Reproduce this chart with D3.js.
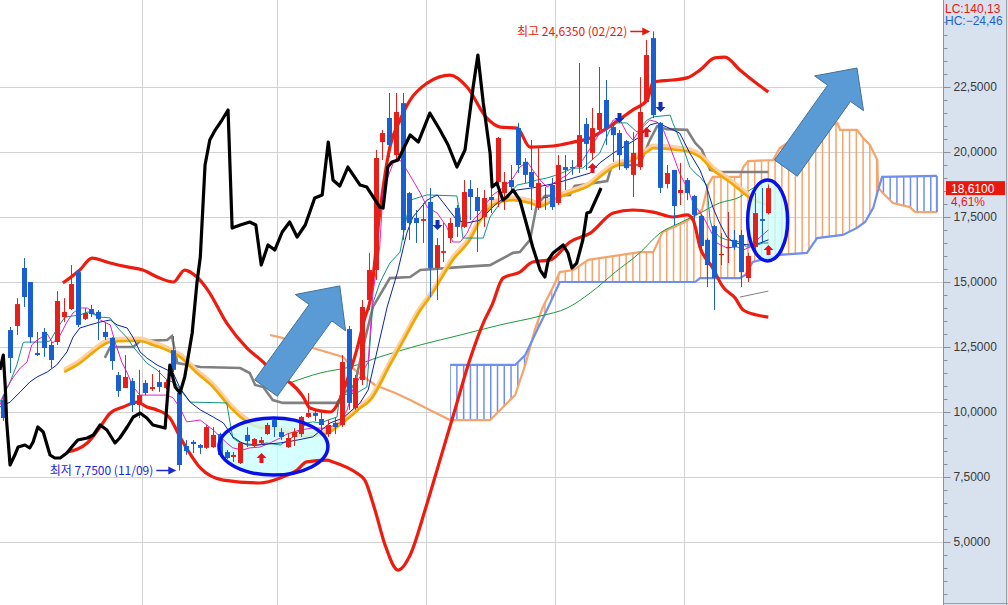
<!DOCTYPE html>
<html>
<head>
<meta charset="utf-8">
<script src="https://cdn.jsdelivr.net/npm/d3@7"></script>
<style>
body { margin: 0; background: #fff; }
svg { display: block; }
text { font-family: "Liberation Sans", "Noto Sans CJK KR", sans-serif; }
.kr { font-family: "Noto Sans CJK KR", sans-serif; }
</style>
</head>
<body>
<script>
// ---- daily candles (price) ----
var opens  = [10.46,13.15,13.31,15.54,15.0,12.27,13.08,12.58,12.69,13.65,13.96,15.38,13.58,13.96,13.85,13.08,12.85,11.42,10.92,11.19,
              10.27,11.12,10.88,11.15,10.92,12.38,10.73,8.69,8.85,8.73,8.62,8.65,9.15,8.46,8.27,8.04,9.12,8.69,8.81,9.15,
              9.69,9.23,8.65,9.04,9.15,9.81,9.96,9.73,9.15,9.58,9.5,13.19,10.15,11.23,14.31,15.46,20.38,21.31,19.88,21.88,
              18.42,17.46,17.35,18.08,15.54,16.12,16.69,17.85,17.12,18.58,18.27,17.5,18.27,18.85,18.42,18.92,20.92,19.62,19.23,17.85,
              18.27,18.73,18.04,19.42,19.42,19.42,21.08,19.96,20.85,22.0,20.96,20.73,20.42,19.12,19.42,21.92,24.38,21.12,18.77,19.31,
              18.42,18.92,18.31,17.54,16.62,17.15,16.04,16.31,16.62,16.81,15.15,16.35,17.42,17.65];
var highs  = [10.65,13.27,14.38,15.92,15.0,13.08,13.23,12.69,14.65,14.38,15.65,15.46,14.0,14.12,13.92,13.42,12.88,11.54,12.19,11.31,
              11.62,11.23,11.46,11.62,11.23,12.92,10.77,8.92,8.92,8.77,9.5,9.42,9.2,8.54,8.46,8.85,9.42,9.0,9.04,9.58,
              9.77,9.38,9.19,9.38,9.85,10.73,10.08,10.0,9.69,9.77,12.19,13.31,11.42,14.31,16.12,20.08,20.85,22.27,22.27,22.27,
              18.46,17.77,18.04,18.62,16.69,17.27,17.46,17.96,18.92,18.92,18.62,18.54,19.88,20.58,19.23,19.5,21.12,19.77,20.46,20.15,
              18.65,19.0,19.88,19.88,19.69,23.42,21.31,21.69,23.27,22.77,21.12,20.85,20.46,20.77,22.88,24.31,24.635,21.15,19.5,19.31,
              19.58,19.0,18.35,17.62,16.69,17.19,16.88,17.69,17.0,17.0,16.12,18.42,18.62,18.75];
var lows   = [9.65,11.5,12.96,14.04,12.65,12.15,12.12,11.69,12.58,13.46,13.92,13.27,13.54,13.65,12.77,12.77,11.62,10.58,10.92,10.0,
              9.77,10.65,10.81,10.77,10.88,11.54,7.75,8.35,8.42,8.38,8.58,8.62,8.3,8.19,8.08,8.0,8.65,8.65,8.73,9.12,
              9.04,8.92,8.62,8.69,9.04,9.77,9.65,9.19,9.04,9.15,9.42,10.08,10.08,11.04,13.92,15.08,19.69,19.81,19.7,16.62,
              16.62,16.5,16.5,14.42,14.31,15.77,16.5,16.73,17.08,17.38,16.15,17.12,17.65,17.88,17.77,18.42,19.19,18.81,17.77,17.77,
              17.77,17.77,17.96,18.54,19.12,19.19,19.31,19.69,20.73,20.27,19.62,19.31,19.31,18.27,19.31,21.88,21.3,18.42,18.6,17.19,
              17.96,18.15,17.38,16.23,14.81,13.92,15.65,15.73,16.23,14.81,15.0,16.23,16.5,17.6];
var closes = [9.77,12.08,14.15,14.42,12.88,12.19,12.46,12.0,14.27,13.85,14.92,13.35,13.81,13.77,13.58,12.88,11.96,10.81,11.35,10.27,
              10.65,10.73,10.96,10.96,11.15,11.62,7.96,8.5,8.77,8.62,9.42,9.12,8.35,8.23,8.35,8.81,8.88,8.96,8.92,9.5,
              9.42,9.04,9.0,9.23,9.81,9.96,9.85,9.5,9.5,9.42,11.92,10.35,11.31,14.04,15.46,19.77,20.73,20.27,21.54,17.0,
              17.27,17.27,17.42,15.54,16.42,16.19,17.27,17.12,18.46,18.27,17.73,18.23,18.15,20.54,18.85,18.65,19.5,19.12,18.65,18.81,
              18.23,17.88,19.5,19.31,19.38,20.65,20.31,20.92,21.5,20.92,20.65,19.88,19.38,19.96,21.54,23.73,21.42,18.62,19.19,17.92,
              18.54,18.42,17.58,16.38,15.65,15.15,16.08,16.35,16.35,15.38,16.0,17.65,17.35,18.61];

// ---- overlay lines: [candle index, price] ----
var bbUpper = [[8.8,14.96],[11.3,15.46],[13.1,15.92],[15.8,15.73],[18.3,15.58],[20.6,15.46],[23.1,15.15],[25.1,15.0],[26.8,15.46],
  [28.6,15.19],[30.2,14.69],[33.0,13.42],[36.0,12.46],[38.4,11.92],[40.4,11.35],[42.4,11.12],[44.3,10.58],[45.3,10.15],[48.3,10.0],
  [49.7,10.46],[50.8,11.23],[52.2,12.38],[53.4,13.62],[54.2,14.31],[55.6,17.65],[57.1,20.19],[58.6,21.23],[60.1,22.0],[62.6,22.65],
  [66.0,22.96],[68.5,22.5],[71.4,21.31],[73.4,20.96],[75.9,20.92],[77.8,20.19],[81.2,20.23],[84.2,20.38],[86.7,20.54],[89.2,20.92],
  [93.0,21.62],[95.1,22.0],[96.0,22.69],[98.9,22.77],[101.0,22.85],[102.9,23.15],[105.1,23.62],[106.6,23.65],[108.8,23.15],
  [111.0,22.69],[113.0,22.31]];
var bbLower = [[9.4,8.46],[12.4,8.81],[14.3,9.42],[15.8,9.96],[17.7,10.19],[19.8,10.38],[21.2,10.19],[22.7,10.08],[24.6,9.77],
  [26.1,9.04],[27.9,8.27],[29.1,7.85],[32.5,7.38],[37.9,7.27],[40.9,7.46],[43.4,7.77],[44.8,8.08],[47.8,8.15],[48.7,8.08],
  [52.2,7.65],[53.4,7.38],[54.9,6.23],[56.4,4.88],[58.3,3.92],[60.1,4.5],[62.3,6.23],[64.5,8.15],[66.7,10.08],[68.9,12.0],
  [71.1,13.54],[72.2,14.12],[73.8,15.15],[76.3,15.38],[78.2,15.77],[80.8,15.85],[83.7,16.54],[86.7,16.88],[90.1,17.65],
  [93.0,17.77],[96.0,17.69],[98.9,17.5],[101.0,17.58],[101.9,17.38],[102.9,16.35],[104.7,15.58],[106.3,14.81],[108.1,14.38],
  [109.3,13.92],[111.3,13.73],[113.0,13.65]];
var baseLine = [[15.0,12.08],[15.8,12.5],[19.2,12.5],[20.2,12.73],[24.2,12.77],[24.9,12.92],[25.7,11.88],[29.1,11.73],[35.0,11.69],
  [36.4,11.5],[37.2,11.04],[38.4,10.96],[39.8,10.46],[41.3,10.35],[49.3,10.35],[50.5,10.77],[51.9,11.04],[53.4,12.77],[54.6,14.04],
  [57.1,15.15],[60.1,15.19],[61.6,15.46],[67.9,15.58],[71.9,15.65],[75.3,16.12],[76.3,16.15],[77.8,16.62],[78.8,17.96],[80.0,18.31],
  [83.7,18.35],[84.4,18.69],[89.2,18.88],[89.9,19.5],[94.0,19.5],[95.5,20.46],[96.6,21.0],[98.0,20.88],[101.0,20.85],[102.2,20.35],
  [103.2,20.08],[104.4,19.31],[105.8,19.23],[113.0,19.23]];
var ma60 = [[9.0,11.54],[10.9,11.81],[12.8,12.19],[14.3,12.5],[15.8,12.69],[18.3,12.73],[20.2,12.73],[22.1,12.58],[24.2,12.38],
  [26.1,12.12],[28.6,11.5],[31.0,10.96],[33.5,10.19],[36.0,9.62],[37.5,9.42],[40.9,9.31],[42.3,9.19],[44.9,9.04],[46.8,9.12],
  [48.0,9.19],[49.7,9.5],[51.2,9.81],[52.7,10.15],[54.2,10.46],[57.1,11.81],[59.3,12.85],[61.6,13.92],[63.0,14.42],[66.4,15.85],
  [68.9,16.62],[70.4,17.35],[72.9,18.04],[75.3,18.15],[77.8,18.04],[79.3,17.92],[81.8,18.23],[84.2,18.46],[86.7,18.73],[88.1,19.04],
  [90.1,19.42],[93.0,19.69],[95.1,20.0],[96.0,20.15],[99.5,20.08],[101.4,20.0],[102.9,19.81],[104.8,19.31],[106.9,18.92],
  [108.8,18.54],[110.3,18.23],[112.8,17.96]];
var ma120 = [[42.3,11.12],[46.8,11.5],[51.2,11.73],[55.6,12.12],[61.6,12.58],[67.5,12.96],[73.4,13.35],[79.3,13.69],[83.3,14.0],
  [86.7,14.58],[90.4,15.38],[94.0,16.12],[97.0,16.88],[99.9,17.27],[102.9,17.65],[105.8,18.04],[108.8,18.27],[110.3,18.54],[113.0,18.92]];
var ma20 = [[-0.5,10.38],[1.0,11.15],[2.0,11.81],[2.9,12.65],[3.2,12.69],[5.9,12.69],[6.9,12.73],[8.1,13.27],[9.1,13.65],[11.3,13.73],
  [12.5,13.85],[14.3,13.65],[15.8,13.62],[16.2,13.46],[17.2,13.15],[18.3,12.85],[19.2,12.5],[20.2,12.19],[21.2,11.88],[22.7,11.62],
  [24.2,11.23],[25.4,11.12],[26.4,10.77],[27.6,10.38],[33.0,10.35],[33.5,9.58],[33.9,9.0],[35.0,8.81],[37.5,8.73],[38.9,8.81],
  [40.9,8.73],[42.8,9.04],[44.9,9.58],[45.7,9.62],[46.8,9.58],[49.3,9.81],[49.7,10.65],[52.2,10.73],[53.7,10.96],[54.6,14.19],
  [55.6,14.96],[57.1,15.73],[58.6,16.15],[59.3,17.12],[60.1,18.15],[61.6,18.27],[62.6,18.35],[67.0,18.31],[67.5,17.5],[67.9,16.69],
  [70.9,16.69],[71.9,17.5],[73.4,18.04],[74.4,18.27],[75.9,18.73],[77.4,18.81],[78.8,18.92],[80.3,19.0],[81.8,19.12],[84.2,19.38],
  [85.6,19.38],[88.1,19.96],[89.6,20.85],[90.6,21.12],[92.1,21.12],[93.6,20.77],[95.1,21.23],[96.0,21.35],[98.5,21.42],[98.9,21.12],
  [100.4,20.19],[101.4,19.42],[102.2,19.19],[102.9,19.04],[103.9,18.73],[104.4,17.38],[104.8,17.0],[105.8,16.73],[106.9,16.62],
  [108.8,16.54],[109.8,16.35],[110.7,16.35],[112.2,16.5],[113.0,16.5]];
var ma5 = [[-0.5,10.27],[0.5,10.92],[1.4,11.31],[2.5,11.69],[3.5,11.92],[4.2,12.58],[5.0,12.77],[6.5,13.0],[7.3,12.65],[8.4,12.96],
  [9.4,13.46],[10.3,13.81],[11.3,14.0],[12.4,14.0],[13.3,13.85],[14.3,13.54],[15.8,13.35],[16.5,12.69],[17.5,11.92],[18.3,11.5],
  [19.2,10.96],[20.2,10.65],[24.2,10.65],[25.1,10.54],[26.1,10.15],[27.1,9.62],[29.1,9.69],[31.0,9.31],[33.0,8.81],[33.9,8.62],
  [35.4,8.54],[36.4,8.62],[37.9,8.65],[39.4,8.81],[40.9,9.0],[41.9,9.15],[43.8,9.31],[45.7,9.38],[47.8,9.38],[49.7,9.58],
  [50.8,10.08],[51.6,10.85],[53.0,11.5],[53.9,11.92],[54.6,14.58],[55.6,16.35],[56.1,18.54],[57.6,19.58],[58.6,19.69],[59.6,19.31],
  [61.6,18.42],[62.6,17.88],[64.1,17.65],[65.5,17.12],[66.4,16.54],[67.5,16.54],[68.5,16.88],[69.4,17.38],[70.4,17.65],[71.4,18.04],
  [72.3,18.35],[73.8,18.62],[75.3,19.0],[76.3,19.42],[77.4,19.62],[78.2,19.31],[79.3,18.92],[80.3,18.65],[83.3,19.12],[85.6,19.69],
  [86.7,20.15],[88.1,20.73],[89.2,20.85],[90.1,21.23],[91.1,21.23],[92.1,20.73],[93.0,20.46],[94.0,20.85],[95.5,21.23],[96.6,21.15],
  [97.5,20.85],[98.5,20.19],[99.9,19.19],[101.0,18.62],[101.9,18.04],[103.4,17.5],[104.4,17.0],[105.4,16.5],[106.9,16.31],
  [108.4,16.35],[109.3,16.23],[110.3,16.35],[111.8,16.73],[113.0,17.0]];
var ma10 = [[-0.5,10.19],[1.0,10.38],[2.5,10.77],[3.9,11.15],[5.0,11.35],[6.5,11.54],[7.9,11.81],[9.4,12.31],[10.3,12.88],[11.3,13.23],
  [12.8,13.35],[14.3,13.46],[15.8,13.54],[16.8,13.35],[18.3,13.23],[19.2,12.85],[20.2,12.31],[21.2,12.08],[22.7,11.81],[24.2,11.62],
  [25.1,11.5],[26.1,10.92],[27.6,10.38],[29.1,10.08],[31.0,9.81],[32.5,9.58],[33.9,9.04],[35.0,8.85],[36.0,8.73],[37.5,8.73],
  [40.9,8.81],[43.4,8.92],[45.7,9.04],[48.3,9.58],[50.2,9.77],[52.7,10.35],[53.9,10.85],[56.7,14.04],[58.2,15.35],[59.6,16.88],
  [60.5,17.5],[62.6,18.15],[64.1,18.35],[65.5,17.88],[67.0,17.38],[68.5,17.27],[70.4,17.38],[72.3,17.88],[74.4,18.35],[75.9,18.54],
  [78.2,18.62],[80.3,18.73],[81.8,18.81],[84.2,19.0],[86.7,19.19],[88.1,19.58],[90.1,19.96],[92.1,20.27],[94.0,20.58],[95.5,21.04],
  [96.6,21.12],[98.0,20.96],[99.9,20.73],[101.4,19.96],[102.9,19.31],[103.9,18.65],[104.8,17.88],[105.8,17.27],[106.9,16.73],
  [107.8,16.54],[108.8,16.46],[110.3,16.42],[111.8,16.5],[113.0,16.62]];
var laggingTail = [[108.8,14.42],[113.0,14.65]];

// ---- cloud spans ----
var spanA = [[39.4,12.96],[41.2,12.85],[45.7,12.46],[50.2,12.12],[51.9,11.62],[54.9,11.04],[57.9,10.73],[60.1,10.46],[63.0,10.08],
  [66.0,9.69],[71.9,9.69],[73.4,10.08],[75.6,10.65],[77.1,11.81],[78.5,13.15],[79.7,14.04],[81.2,14.81],[82.2,15.38],[84.2,15.46],
  [86.4,15.85],[94.0,16.15],[96.0,16.15],[97.4,16.92],[100.4,17.27],[101.9,17.5],[103.2,17.77],[104.1,18.73],[104.8,19.04],
  [108.8,19.04],[109.3,19.42],[110.0,19.65],[113.7,19.69],[114.7,20.15],[115.8,20.35],[123.2,21.12],[123.6,20.85],[126.1,20.85],
  [127.0,20.54],[128.0,20.27],[129.1,19.69],[129.2,18.65],[129.9,18.42],[131.4,18.04],[133.9,17.88],[134.7,17.69],[137.9,17.69]];
var spanB = [[66.0,11.81],[75.6,11.81],[77.1,12.19],[78.5,12.96],[80.3,13.92],[82.2,15.0],[102.2,15.0],[102.9,15.15],[108.8,15.15],
  [109.6,15.27],[110.7,15.77],[114.7,16.04],[118.7,16.12],[120.2,16.69],[124.0,16.81],[126.1,17.08],[127.3,17.31],[128.5,17.85],
  [129.1,18.42],[129.8,19.04],[137.9,19.08]];
var cloudStart = 66, cloudEnd = 137.9;

// ---- oscillator (own scale, LC/HC) ----
var oscLine = [[-0.5,13.67],[0.0,19.69],[0.3,6.45],[0.5,-7.2],[1.0,-24.46],[1.7,-20.45],[2.2,-17.23],[3.2,-16.43],[3.9,-17.64],
  [4.4,-15.23],[5.1,-9.21],[5.9,-11.21],[6.9,-20.45],[7.6,-21.65],[8.4,-21.65],[9.4,-19.64],[10.1,-17.23],[11.0,-14.42],[12.4,-13.62],
  [13.3,-12.42],[14.3,-8.4],[15.3,-10.41],[16.5,-15.63],[17.2,-13.62],[18.3,-9.21],[19.2,-5.19],[20.2,-3.59],[21.2,-5.59],[22.1,-8.4],
  [23.9,-9.61],[24.6,15.68],[25.4,6.85],[26.1,4.44],[26.8,10.86],[27.9,28.52],[28.6,48.59],[29.1,59.03],[29.8,95.96],[30.5,106.0],
  [31.3,110.01],[32.3,114.02],[33.2,118.04],[33.8,70.67],[35.0,71.88],[36.4,73.08],[37.3,71.88],[38.1,55.82],[39.1,63.85],[40.1,61.84],
  [41.2,69.07],[42.3,73.08],[43.4,67.06],[44.6,71.88],[46.0,82.71],[47.1,83.92],[48.0,105.19],[48.7,89.94],[49.7,87.53],[50.9,95.16],
  [52.7,87.93],[53.7,87.13],[55.6,79.1],[56.1,78.7],[56.8,95.16],[57.4,97.16],[58.3,97.97],[60.1,108.0],[61.3,105.19],[63.0,116.83],
  [64.5,110.01],[65.7,103.99],[67.0,95.16],[68.2,101.98],[69.4,127.27],[70.1,140.11],[70.9,120.85],[71.9,100.78],[72.2,87.13],
  [72.9,88.73],[73.8,81.91],[74.4,83.11],[75.3,85.93],[76.3,81.91],[77.4,71.07],[78.2,63.05],[79.3,53.81],[80.0,51.0],[80.5,57.83],
  [81.2,60.64],[82.7,63.85],[83.4,60.64],[84.0,54.62],[84.7,56.62],[85.6,65.86],[86.2,76.69],[86.7,77.09],[88.3,86.73]];
var oscHigh = 140.13, oscLow = -24.46;

// ---- axis / grid ----
var priceTicks = [5, 7.5, 10, 12.5, 15, 17.5, 20, 22.5];
var monthBreaks = [20.5, 40.5, 62.5, 81.5, 100.5];

// ---- marks on chart ----
var upMarks = [[38, 8.42], [87, 19.58], [95, 20.96], [113, 16.42]];
var downMarks = [[64, 17.0], [91, 21.12], [97, 21.54]];
var bigArrows = [{from: [38.8, 10.92], to: [49.7, 14.85]}, {from: [115.6, 19.38], to: [126.1, 23.23]}];
var rings = [{c: [39.9, 8.67], rx: 54.5, ry: 28.5}, {c: [112.9, 17.37], rx: 20, ry: 40.5}];
var hiIdx = 96, hiText = "최고 24,6350 (02/22)";
var loIdx = 26, loText = "최저 7,7500 (11/09)";
var lastPrice = 18.61, lastChange = "4,61%";

var W = 1008, H = 605, plotW = 943;

var svg = d3.select("body").append("svg")
    .attr("width", W)
    .attr("height", H);

var x = d3.scaleLinear().domain([0, 100]).range([3.3, 680.3]);
var y = d3.scaleLinear().domain([2.577, 25.846]).range([605, 0]);
var yOsc = d3.scaleLinear().domain([oscLow, oscHigh]).range([465, 55]);

var fmt = function(v, n) { return d3.format("." + n + "f")(v).replace(".", ","); };

svg.append("rect").attr("width", W).attr("height", H).attr("fill", "#fff");

// grid
svg.append("g").selectAll("line")
    .data(priceTicks)
    .enter().append("line")
    .attr("x1", 0).attr("x2", plotW)
    .attr("y1", d => Math.round(y(d)) + 0.5).attr("y2", d => Math.round(y(d)) + 0.5)
    .attr("stroke", "#d2d2d2");
svg.append("g").selectAll("line")
    .data(monthBreaks)
    .enter().append("line")
    .attr("x1", d => Math.round(x(d)) + 0.5).attr("x2", d => Math.round(x(d)) + 0.5)
    .attr("y1", 0).attr("y2", H)
    .attr("stroke", "#d2d2d2");

var line = d3.line().x(d => x(d[0])).y(d => y(d[1]));
var smooth = d3.line().curve(d3.curveMonotoneX).x(d => x(d[0])).y(d => y(d[1]));

// cloud hatching via clip paths
var defs = svg.append("defs");
var cloudA = spanA.filter(d => d[0] >= cloudStart);
function clipPoly(id, pts, edgeY) {
    var p = pts.map(d => [x(d[0]), y(d[1])]);
    p.push([x(cloudEnd) + 1, edgeY]);
    p.push([x(cloudStart) - 1, edgeY]);
    defs.append("clipPath").attr("id", id)
        .append("path").attr("d", "M" + p.join("L") + "Z");
}
clipPoly("belowA", cloudA, H);
clipPoly("aboveA", cloudA, 0);
clipPoly("belowB", spanB, H);
clipPoly("aboveB", spanB, 0);

var hatchIdx = d3.range(cloudStart, Math.floor(cloudEnd) + 1);
function hatch(outer, inner, color) {
    svg.append("g").attr("clip-path", "url(#" + outer + ")")
        .append("g").attr("clip-path", "url(#" + inner + ")")
        .selectAll("line").data(hatchIdx).enter().append("line")
        .attr("x1", d => x(d)).attr("x2", d => x(d))
        .attr("y1", 0).attr("y2", H)
        .attr("stroke", color).attr("stroke-width", 1.5);
}
hatch("belowA", "aboveB", "#f5a46c");
hatch("belowB", "aboveA", "#6f8ff0");

svg.append("path").attr("d", line(spanA)).attr("fill", "none")
    .attr("stroke", "#f5a46c").attr("stroke-width", 2.2);
svg.append("path").attr("d", line(spanB)).attr("fill", "none")
    .attr("stroke", "#6f8ff0").attr("stroke-width", 2.2);
// closing edge of the cloud
svg.append("line")
    .attr("x1", x(cloudEnd)).attr("x2", x(cloudEnd))
    .attr("y1", y(spanB[spanB.length - 1][1])).attr("y2", y(spanA[spanA.length - 1][1]))
    .attr("stroke", "#6f8ff0").attr("stroke-width", 2);

// slow lines (under the ellipse tint)
svg.append("path").attr("d", smooth(ma120)).attr("fill", "none").attr("stroke", "#1d9a3c").attr("stroke-width", 1);
svg.append("path").attr("d", line(laggingTail)).attr("fill", "none").attr("stroke", "#808080").attr("stroke-width", 1);
svg.append("path").attr("d", line(baseLine)).attr("fill", "none").attr("stroke", "#808080").attr("stroke-width", 2.6);
svg.append("path").attr("d", smooth(ma60)).attr("fill", "none").attr("stroke", "#ffcf9e").attr("stroke-width", 5)
    .attr("transform", "translate(0,-2)");
svg.append("path").attr("d", smooth(ma60)).attr("fill", "none").attr("stroke", "#f0a800").attr("stroke-width", 2.6);

// ellipse tint
svg.append("g").selectAll("ellipse").data(rings).enter().append("ellipse")
    .attr("cx", d => x(d.c[0])).attr("cy", d => y(d.c[1]))
    .attr("rx", d => d.rx).attr("ry", d => d.ry)
    .attr("fill", "#ccffff").attr("fill-opacity", 0.8);

svg.append("path").attr("d", smooth(bbUpper)).attr("fill", "none").attr("stroke", "#ee1c0e").attr("stroke-width", 3.2);
svg.append("path").attr("d", smooth(bbLower)).attr("fill", "none").attr("stroke", "#ee1c0e").attr("stroke-width", 3.2);
svg.append("path").attr("d", line(ma20)).attr("fill", "none").attr("stroke", "#0f9484").attr("stroke-width", 1);
svg.append("path").attr("d", line(ma5)).attr("fill", "none").attr("stroke", "#e020c8").attr("stroke-width", 1);
svg.append("path").attr("d", line(ma10)).attr("fill", "none").attr("stroke", "#0a22a8").attr("stroke-width", 1);

// candles
var candles = d3.range(opens.length).map(function(i) {
    return {i: i, o: opens[i], h: highs[i], l: lows[i], c: closes[i]};
});
var cg = svg.append("g").selectAll("g").data(candles).enter().append("g");
cg.append("line")
    .attr("x1", d => Math.round(x(d.i)) + 0.5).attr("x2", d => Math.round(x(d.i)) + 0.5)
    .attr("y1", d => y(d.h)).attr("y2", d => y(d.l))
    .attr("stroke", d => d.c >= d.o ? "#e5201b" : "#1a5fcf");
cg.append("rect")
    .attr("x", d => Math.round(x(d.i)) - 2)
    .attr("width", 5)
    .attr("y", d => y(Math.max(d.o, d.c)))
    .attr("height", d => Math.max(1.2, Math.abs(y(d.o) - y(d.c))))
    .attr("fill", d => d.c >= d.o ? "#e5201b" : "#1a5fcf");

// oscillator
svg.append("path").attr("d", d3.line().x(d => x(d[0])).y(d => yOsc(d[1]))(oscLine))
    .attr("fill", "none").attr("stroke", "#000").attr("stroke-width", 3.2).attr("stroke-linejoin", "round");

// ellipse outlines
svg.append("g").selectAll("ellipse").data(rings).enter().append("ellipse")
    .attr("cx", d => x(d.c[0])).attr("cy", d => y(d.c[1]))
    .attr("rx", d => d.rx).attr("ry", d => d.ry)
    .attr("fill", "none").attr("stroke", "#0a10e8").attr("stroke-width", 3.5);

// small signal arrows
function upArrow(cx, t) {
    return "M" + cx + "," + t + "L" + (cx + 5) + "," + (t + 5) + "L" + (cx + 2) + "," + (t + 5) + "L" + (cx + 2) + "," + (t + 10) +
        "L" + (cx - 2) + "," + (t + 10) + "L" + (cx - 2) + "," + (t + 5) + "L" + (cx - 5) + "," + (t + 5) + "Z";
}
function downArrow(cx, b) {
    return "M" + cx + "," + b + "L" + (cx + 5) + "," + (b - 5) + "L" + (cx + 2) + "," + (b - 5) + "L" + (cx + 2) + "," + (b - 10) +
        "L" + (cx - 2) + "," + (b - 10) + "L" + (cx - 2) + "," + (b - 5) + "L" + (cx - 5) + "," + (b - 5) + "Z";
}
svg.append("g").selectAll("path").data(upMarks).enter().append("path")
    .attr("d", d => upArrow(Math.round(x(d[0])) + 0.5, y(d[1]))).attr("fill", "#e8101a");
svg.append("g").selectAll("path").data(downMarks).enter().append("path")
    .attr("d", d => downArrow(Math.round(x(d[0])) + 0.5, y(d[1]))).attr("fill", "#1030b8");

// big trend arrows
function bigArrow(a, shaftW, headW, headLen) {
    var x0 = x(a.from[0]), y0 = y(a.from[1]), x1 = x(a.to[0]), y1 = y(a.to[1]);
    var len = Math.hypot(x1 - x0, y1 - y0), ux = (x1 - x0) / len, uy = (y1 - y0) / len;
    var px = -uy, py = ux;
    var bx = x1 - ux * headLen, by = y1 - uy * headLen;
    var pts = [
        [x0 + px * shaftW / 2, y0 + py * shaftW / 2],
        [bx + px * shaftW / 2, by + py * shaftW / 2],
        [bx + px * headW / 2, by + py * headW / 2],
        [x1, y1],
        [bx - px * headW / 2, by - py * headW / 2],
        [bx - px * shaftW / 2, by - py * shaftW / 2],
        [x0 - px * shaftW / 2, y0 - py * shaftW / 2]
    ];
    return "M" + pts.join("L") + "Z";
}
svg.append("g").selectAll("path").data(bigArrows).enter().append("path")
    .attr("d", (d, i) => i === 0 ? bigArrow(d, 28, 62, 33) : bigArrow(d, 28, 60, 31))
    .attr("fill", "#5b9bd5").attr("stroke", "#41719c").attr("stroke-width", 1);

// high / low notes
function note(idx, price, txt, color) {
    var tx = x(idx) - 3, ty = y(price);
    svg.append("line").attr("x1", tx - 20).attr("x2", tx - 6).attr("y1", ty).attr("y2", ty)
        .attr("stroke", color).attr("stroke-width", 1.5);
    svg.append("path").attr("d", "M" + tx + "," + ty + "L" + (tx - 8) + "," + (ty - 4) + "L" + (tx - 8) + "," + (ty + 4) + "Z")
        .attr("fill", color);
    svg.append("text").attr("class", "kr").attr("x", tx - 23).attr("y", ty + 4.5)
        .attr("text-anchor", "end").attr("font-size", 12).attr("fill", color).text(txt);
}
note(hiIdx, highs[hiIdx], hiText, "#e8180c");
note(loIdx, lows[loIdx], loText, "#1a28d8");

// right price axis panel
svg.append("rect").attr("x", plotW).attr("y", 0).attr("width", W - plotW).attr("height", H).attr("fill", "#d8e2ef");
var minorTicks = d3.range(3, 25.5, 0.5);
svg.append("g").attr("transform", "translate(" + (plotW + 0.5) + ",0)")
    .call(d3.axisRight(y).tickValues(minorTicks).tickSize(4).tickFormat(""))
    .call(g => g.select(".domain").remove())
    .selectAll("line").attr("stroke", "#8a8f99");
var ax = svg.append("g").attr("transform", "translate(" + (plotW + 0.5) + ",0)")
    .call(d3.axisRight(y).tickValues(priceTicks).tickSize(7).tickPadding(3).tickFormat(d => fmt(d, 4)));
ax.select(".domain").attr("stroke", "#8a8f99").attr("d", "M0,0V" + H);
ax.selectAll("line").attr("stroke", "#8a8f99");
ax.selectAll("text").attr("font-size", 12).attr("fill", "#3a3a3a");
svg.append("line").attr("x1", W - 1.5).attr("x2", W - 1.5).attr("y1", 0).attr("y2", H).attr("stroke", "#9aa0a8");
svg.append("line").attr("x1", plotW).attr("x2", W).attr("y1", H - 1.5).attr("y2", H - 1.5).attr("stroke", "#9aa0a8");

// last price tag
var ly = y(lastPrice);
svg.append("rect").attr("x", plotW + 3).attr("y", ly - 7).attr("width", 59).attr("height", 14).attr("fill", "#e8180c");
svg.append("text").attr("x", plotW + 8).attr("y", ly + 4.5).attr("font-size", 12).attr("fill", "#fff").text(fmt(lastPrice, 4));
svg.append("text").attr("x", plotW + 8).attr("y", ly + 18).attr("font-size", 12).attr("fill", "#e8180c").text(lastChange);

// oscillator range
svg.append("text").attr("x", plotW + 2).attr("y", 13).attr("font-size", 12).attr("fill", "#e8180c").text("LC:" + fmt(oscHigh, 2));
svg.append("text").attr("x", plotW + 2).attr("y", 25).attr("font-size", 12).attr("fill", "#1a60d0").text("HC:" + fmt(oscLow, 2));
</script>
</body>
</html>
